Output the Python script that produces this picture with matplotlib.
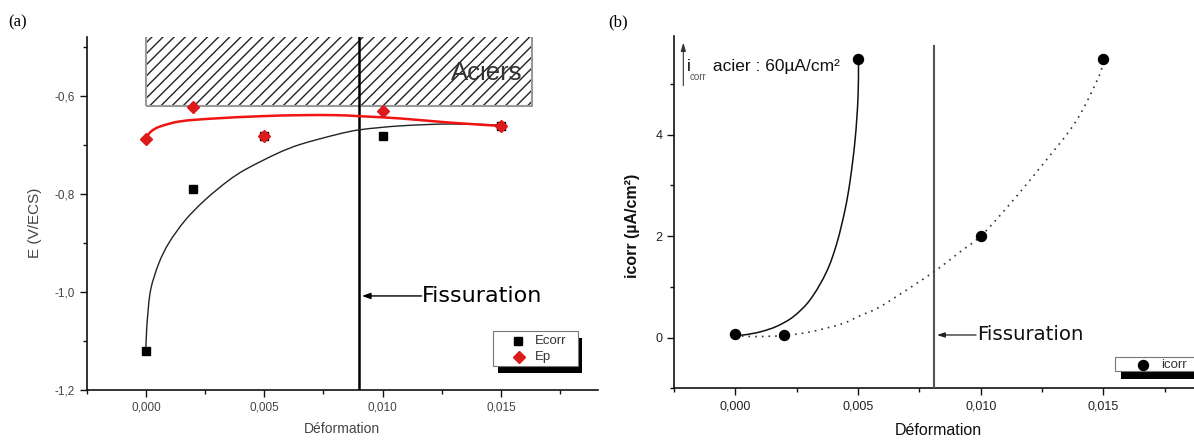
import matplotlib
matplotlib.use("Agg")
import numpy as np
import matplotlib.pyplot as plt
from matplotlib.patches import Rectangle, PathPatch
from matplotlib.path import Path
from matplotlib.lines import Line2D
from matplotlib.ticker import MultipleLocator, FuncFormatter

# ---------------- data (a) ----------------
strain = [0.0, 0.002, 0.005, 0.010, 0.015]
ecorr = [-1.12, -0.79, -0.681, -0.681, -0.661]
ep = [-0.687, -0.622, -0.682, -0.630, -0.661]

ecorr_fit_x = [0.0, 0.00003, 0.00006, 0.0002, 0.00055, 0.00097, 0.00167, 0.0025,
               0.0035, 0.0042, 0.0056, 0.0065, 0.0081, 0.0090, 0.0107, 0.0128, 0.0150]
ecorr_fit_y = [-1.112, -1.08, -1.057, -0.996, -0.941, -0.900, -0.853, -0.812,
               -0.772, -0.750, -0.716, -0.699, -0.678, -0.669, -0.661, -0.657, -0.659]
ep_fit_x = [0.0, 0.0002, 0.00055, 0.0014, 0.0028, 0.0049, 0.0065, 0.0081,
            0.0090, 0.0107, 0.0128, 0.0150]
ep_fit_y = [-0.686, -0.673, -0.663, -0.652, -0.646, -0.641, -0.639, -0.639,
            -0.641, -0.6455, -0.654, -0.661]

steel_zone_x = [0.0, 0.0163]
steel_zone_y = [-0.620, -0.40]
crack_a = 0.009
legend_a_labels = ["Ecorr", "Ep"]

# ---------------- data (b) ----------------
icorr_x = [0.0, 0.002, 0.005, 0.010, 0.015]
icorr = [0.06, 0.04, 5.49, 2.0, 5.49]

icorr_fit1_x = [0.0, 0.00032, 0.001, 0.00168, 0.00236, 0.00304, 0.00372, 0.00413,
                0.00447, 0.00467, 0.00488, 0.0050, 0.00502]
icorr_fit1_y = [0.05, 0.05, 0.11, 0.22, 0.41, 0.74, 1.30, 1.85,
                2.52, 3.07, 3.90, 4.74, 5.45]
icorr_fit2_x = [0.0, 0.00025, 0.001, 0.002, 0.00304, 0.0044, 0.00508, 0.00576,
                0.00644, 0.0081, 0.00916, 0.0100, 0.0112, 0.01255, 0.0139, 0.01486, 0.0150]
icorr_fit2_y = [0.06, 0.03, 0.02, 0.04, 0.11, 0.28, 0.43, 0.57,
                0.77, 1.30, 1.69, 2.0, 2.64, 3.43, 4.28, 5.2, 5.45]
crack_b = 0.0081
crack_b_top = 5.76
steel_icorr_label = " acier : 60µA/cm²"
legend_b_labels = ["icorr"]

SANS = ["Liberation Sans", "DejaVu Sans"]
plt.rcParams["font.family"] = SANS

W, H = 1194.0, 441.0
fig = plt.figure(figsize=(W / 100, H / 100), dpi=100)


def px_axes(x0, y0, x1, y1):
    return fig.add_axes([x0 / W, 1 - y1 / H, (x1 - x0) / W, (y1 - y0) / H])


def fx(x):
    return x / W


def fy(y):
    return 1 - y / H


def style_axes(ax, col):
    for s in ("top", "right"):
        ax.spines[s].set_visible(False)
    for s in ("left", "bottom"):
        ax.spines[s].set_color("#111")
        ax.spines[s].set_linewidth(1.2)
    ax.tick_params(which="major", direction="out", length=5, width=1, colors="#111",
                   labelcolor=col, labelsize=8.5)
    ax.tick_params(which="minor", direction="out", length=3, width=1, colors="#111")


def smooth_curve(ax, xs, ys, **kw):
    """Draw a smooth curve through the given points (Bezier segments in data space)."""
    P = ax.transData.transform(np.column_stack([xs, ys]))
    n = len(P)
    d = np.hypot(*np.diff(P, axis=0).T)
    d[d == 0] = 1e-9
    m = np.zeros_like(P)
    m[0] = (P[1] - P[0]) / d[0]
    m[-1] = (P[-1] - P[-2]) / d[-1]
    for i in range(1, n - 1):
        m[i] = (P[i + 1] - P[i - 1]) / (d[i - 1] + d[i])
    verts = [P[0]]
    codes = [Path.MOVETO]
    for i in range(n - 1):
        verts += [P[i] + m[i] * d[i] / 3, P[i + 1] - m[i + 1] * d[i] / 3, P[i + 1]]
        codes += [Path.CURVE4] * 3
    verts = ax.transData.inverted().transform(np.array(verts))
    patch = PathPatch(Path(verts, codes), fill=False, **kw)
    ax.add_patch(patch)
    return patch


def manual_legend(box, shadow, entries, fontsize):
    x0, y0, x1, y1 = shadow
    fig.add_artist(Rectangle((fx(x0), fy(y1)), fx(x1) - fx(x0), fy(y0) - fy(y1),
                             transform=fig.transFigure, facecolor="black",
                             edgecolor="none", zorder=20))
    x0, y0, x1, y1 = box
    fig.add_artist(Rectangle((fx(x0), fy(y1)), fx(x1) - fx(x0), fy(y0) - fy(y1),
                             transform=fig.transFigure, facecolor="white",
                             edgecolor="#777", lw=0.8, zorder=21))
    for (mx, my, tx, label, mkw) in entries:
        fig.add_artist(Line2D([fx(mx)], [fy(my)], transform=fig.transFigure,
                              ls="none", zorder=22, **mkw))
        fig.text(fx(tx), fy(my), label, fontsize=fontsize, color="#333",
                 ha="left", va="center", zorder=22)


comma3 = FuncFormatter(lambda v, p: f"{v:.3f}".replace(".", ","))

# ================= panel (a) =================
axa = px_axes(86.7, 37.3, 598, 390)
axa.set_xlim(-0.0025, 0.0191)
axa.set_ylim(-1.2, -0.48)
style_axes(axa, "#444")
axa.xaxis.set_major_locator(MultipleLocator(0.005))
axa.xaxis.set_minor_locator(MultipleLocator(0.0025))
axa.yaxis.set_major_locator(MultipleLocator(0.2))
axa.yaxis.set_minor_locator(MultipleLocator(0.1))
axa.xaxis.set_major_formatter(comma3)
axa.yaxis.set_major_formatter(FuncFormatter(lambda v, p: f"{v:.1f}".replace(".", ",")))

axa.add_patch(Rectangle((steel_zone_x[0], steel_zone_y[0]),
                        steel_zone_x[1] - steel_zone_x[0], steel_zone_y[1] - steel_zone_y[0],
                        fill=False, hatch="///", edgecolor="#222", lw=0, zorder=1))
axa.add_patch(Rectangle((steel_zone_x[0], steel_zone_y[0]),
                        steel_zone_x[1] - steel_zone_x[0], steel_zone_y[1] - steel_zone_y[0],
                        fill=False, edgecolor="#999", lw=1.5, zorder=1.1))
axa.text(0.0144, -0.553, "Aciers", fontsize=18.5, color="#333", ha="center", va="center",
         zorder=2)

axa.axvline(crack_a, color="black", lw=1.8, zorder=3)

smooth_curve(axa, ecorr_fit_x, ecorr_fit_y, edgecolor="#222", lw=1.0, zorder=4)
smooth_curve(axa, ep_fit_x, ep_fit_y, edgecolor="#f01414", lw=1.8, zorder=4)
axa.plot(strain, ecorr, ls="none", marker="s", ms=6.3, color="black", zorder=5)
axa.plot(strain, ep, ls="none", marker="D", ms=6.0, color="#dc1c1c", zorder=6)

axa.annotate("", xy=(0.00913, -1.008), xytext=(0.01165, -1.008),
             arrowprops=dict(arrowstyle="-|>,head_length=0.5,head_width=0.18",
                             color="black", lw=1.0, shrinkA=0, shrinkB=0))
axa.text(0.01165, -1.008, "Fissuration", fontsize=16, family=["DejaVu Sans"],
         ha="left", va="center", color="black")

axa.set_xlabel("Déformation", fontsize=10, color="#444")
axa.xaxis.set_label_coords(0.5, -0.092)
axa.set_ylabel("E (V/ECS)", fontsize=11, color="#444")
axa.yaxis.set_label_coords(-0.0875, 0.473)

manual_legend((493.3, 330.7, 577.7, 366.0), (498.0, 338.0, 581.7, 373.3),
              [(518.3, 340.7, 535.0, legend_a_labels[0],
                dict(marker="s", ms=6.3, color="black")),
               (519.3, 357.3, 535.0, legend_a_labels[1],
                dict(marker="D", ms=6.0, color="#dc1c1c"))], 9.5)

# ================= panel (b) =================
axb = px_axes(674, 36.0, 1204, 388.2)
axb.set_xlim(-0.0025, 0.0191)
axb.set_ylim(-1.0, 5.95)
style_axes(axb, "#222")
axb.xaxis.set_major_locator(MultipleLocator(0.005))
axb.xaxis.set_minor_locator(MultipleLocator(0.0025))
axb.yaxis.set_major_locator(MultipleLocator(2))
axb.yaxis.set_minor_locator(MultipleLocator(1))
axb.xaxis.set_major_formatter(comma3)
axb.yaxis.set_major_formatter(FuncFormatter(lambda v, p: f"{v:.0f}"))
axb.tick_params(which="major", labelsize=9)

axb.plot([crack_b, crack_b], [-1.0, crack_b_top], color="#555", lw=1.5, zorder=3)
smooth_curve(axb, icorr_fit1_x, icorr_fit1_y, edgecolor="#111", lw=1.1, zorder=4)
smooth_curve(axb, icorr_fit2_x, icorr_fit2_y, edgecolor="#333", lw=1.2,
             linestyle=(0, (1, 3)), zorder=4)
axb.plot(icorr_x, icorr, ls="none", marker="o", ms=7.2, color="black", zorder=5)

axb.annotate("", xy=(0.00822, 0.05), xytext=(0.00981, 0.05),
             arrowprops=dict(arrowstyle="-|>,head_length=0.45,head_width=0.15",
                             color="#222", lw=0.9, shrinkA=0, shrinkB=0))
axb.text(0.00985, 0.05, "Fissuration", fontsize=14.2, family=["DejaVu Sans"],
         ha="left", va="center", color="#111")

axb.annotate("", xy=(-0.00212, 5.82), xytext=(-0.00212, 4.97),
             arrowprops=dict(arrowstyle="-|>,head_length=0.5,head_width=0.15",
                             color="#333", lw=0.8, shrinkA=0, shrinkB=0))
axb.text(-0.00197, 5.35, "i", fontsize=12.5, ha="left", va="center", color="#111")
axb.text(-0.00188, 5.15, "corr", fontsize=7, ha="left", va="center", color="#555")
axb.text(-0.00112, 5.35, steel_icorr_label, fontsize=12.5, ha="left", va="center",
         color="#111")

axb.set_xlabel("Déformation", fontsize=11.5, color="#111")
axb.xaxis.set_label_coords((938 - 674) / 530, -0.1)
axb.set_ylabel("icorr (µA/cm²)", fontsize=11.5, color="#111", fontweight="bold")
axb.yaxis.set_label_coords(-0.064, 0.461)

manual_legend((1115.0, 356.7, 1215.0, 371.0), (1120.7, 363.0, 1220.0, 379.3),
              [(1142.7, 364.5, 1160.7, legend_b_labels[0],
                dict(marker="o", ms=7.2, color="black"))], 9.5)

# panel letters
fig.text(fx(8), fy(22), "(a)", fontsize=12, family=["Liberation Serif", "DejaVu Serif"],
         va="center", ha="left")
fig.text(fx(608), fy(22), "(b)", fontsize=12, family=["Liberation Serif", "DejaVu Serif"],
         va="center", ha="left")

fig.savefig("out.png", dpi=100)
